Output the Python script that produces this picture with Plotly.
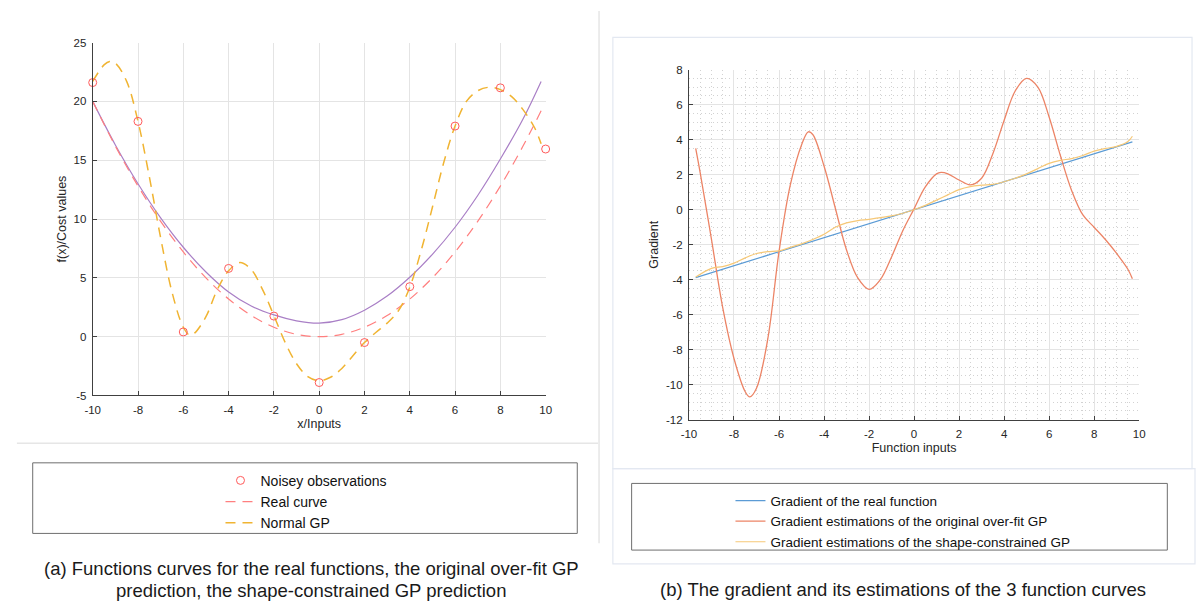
import plotly.graph_objects as go

W, H = 1200, 610
FONT = "Liberation Sans, Arial, Helvetica, sans-serif"

# ---------------- data: left panel ----------------
obs_x = [-10, -8, -6, -4, -2, 0, 2, 4, 6, 8, 10]
obs_y = [21.6, 18.3, 0.4, 5.8, 1.75, -3.9, -0.5, 4.25, 17.9, 21.15, 15.95]

real_x = [-10, -9, -8, -7, -6, -5, -4, -3, -2, -1, 0, 1, 2, 3, 4, 5, 6, 7, 8, 9, 9.8]
real_y = [20.0, 16.2, 12.8, 9.8, 7.2, 5.0, 3.2, 1.8, 0.8, 0.2, 0.0, 0.2, 0.8, 1.8, 3.2, 5.0, 7.2, 9.8, 12.8, 16.2, 19.2]

gp_x = [-10, -9.5, -9.25, -9, -8.5, -8, -7.5, -7, -6.5, -6, -5.7, -5.5, -5, -4.5, -4, -3.5, -3, -2.5, -2,
        -1.5, -1, -0.5, 0, 0.5, 1, 1.5, 2, 2.5, 3, 3.5, 4, 4.5, 5, 5.5, 6, 6.5, 7, 7.5, 8, 8.5, 9, 9.5, 9.8]
gp_y = [21.7, 23.1, 23.4, 23.25, 21.7, 18.3, 13.6, 8.4, 3.8, 0.8, 0.1, 0.3, 1.7, 4.0, 5.6, 6.3, 5.7, 4.0, 1.8,
        -0.5, -2.3, -3.4, -3.75, -3.45, -2.7, -1.6, -0.5, 0.35, 1.15, 2.2, 4.2, 7.3, 11.0, 14.8, 17.9, 20.0, 20.9, 21.2, 21.0, 20.4, 19.3, 17.8, 16.4]

sc_x = [-10, -9, -8, -7, -6, -5, -4, -3, -2, -1, 0, 1, 2, 3, 4, 5, 6, 7, 8, 9, 9.8]
sc_y = [20.0, 16.3, 13.0, 10.1, 7.6, 5.5, 3.8, 2.6, 1.85, 1.35, 1.15, 1.45, 2.25, 3.45, 5.05, 7.0, 9.3, 12.0, 15.1, 18.5, 21.7]

# ---------------- data: right panel ----------------
grad_real_x = [-9.7, -5, 0, 5, 9.7]
grad_real_y = [-3.88, -2.0, 0.0, 2.0, 3.88]

grad_gp_x = [-9.7, -9.5, -9.0, -8.5, -8.0, -7.5, -7.3, -7.0, -6.5, -6.0, -5.5, -5.0, -4.7, -4.5, -4.0, -3.5, -3.0,
             -2.5, -2.0, -1.5, -1.0, -0.5, 0, 0.5, 1.0, 1.2, 1.5, 2.0, 2.5, 3.0, 3.5, 4.0, 4.5, 5.0, 5.5, 6.0,
             6.5, 7.0, 7.5, 8.0, 8.5, 9.0, 9.5, 9.7]
grad_gp_y = [3.5, 2.1, -1.7, -5.6, -8.5, -10.4, -10.7, -10.2, -7.4, -2.4, 1.4, 3.7, 4.45, 4.3, 2.5, 0.1, -2.3,
             -3.9, -4.55, -4.0, -2.7, -1.2, 0.05, 1.3, 2.05, 2.13, 2.05, 1.7, 1.42, 1.8, 3.2, 5.1, 6.8, 7.5, 7.0, 5.3,
             3.1, 1.1, -0.3, -1.0, -1.7, -2.5, -3.4, -3.95]

grad_sc_x = [-9.7, -9.0, -8.5, -8.0, -7.5, -7.0, -6.5, -6.0, -5.5, -5.0, -4.5, -4.0, -3.5, -3.0, -2.5, -2.0,
             -1.5, -1.0, -0.5, 0, 0.5, 1.0, 1.5, 2.0, 2.5, 3.0, 3.5, 4.0, 4.5, 5.0, 5.5, 6.0, 6.5, 7.0, 7.5,
             8.0, 8.5, 9.0, 9.5, 9.7]
grad_sc_y = [-3.85, -3.35, -3.25, -3.05, -2.75, -2.5, -2.4, -2.35, -2.15, -1.95, -1.7, -1.4, -1.0, -0.75, -0.62, -0.55,
             -0.45, -0.35, -0.2, 0.0, 0.25, 0.55, 0.85, 1.15, 1.32, 1.4, 1.45, 1.6, 1.8, 2.05, 2.35, 2.65, 2.82, 2.92, 3.1,
             3.35, 3.5, 3.62, 3.9, 4.2]

left_xticks = [-10, -8, -6, -4, -2, 0, 2, 4, 6, 8, 10]
left_yticks = [-5, 0, 5, 10, 15, 20, 25]
right_xticks = [-10, -8, -6, -4, -2, 0, 2, 4, 6, 8, 10]
right_yticks = [-12, -10, -8, -6, -4, -2, 0, 2, 4, 6, 8]

C_OBS = "#ff5a5a"
C_REAL = "#ff7f7f"
C_GP = "#f0b432"
C_SC = "#a97fc6"
C_BLUE = "#5b9bd5"
C_RED = "#ec8466"
C_YEL = "#f6c877"


def px(x):
    return x / W


def py(y):
    return 1 - y / H


def labels(vals):
    return [str(v) for v in vals]


fig = go.Figure()

# left panel
fig.add_trace(go.Scatter(x=sc_x, y=sc_y, mode="lines", line=dict(color=C_SC, width=1.2, shape="spline"),
                         showlegend=False, xaxis="x", yaxis="y", hoverinfo="skip"))
fig.add_trace(go.Scatter(x=real_x, y=real_y, mode="lines", name="Real curve",
                         line=dict(color=C_REAL, width=1.2, dash="10px,7px", shape="spline"),
                         xaxis="x", yaxis="y", legend="legend", legendrank=2))
fig.add_trace(go.Scatter(x=gp_x, y=gp_y, mode="lines", name="Normal GP",
                         line=dict(color=C_GP, width=1.5, dash="10px,7px", shape="spline"),
                         xaxis="x", yaxis="y", legend="legend", legendrank=3))
fig.add_trace(go.Scatter(x=obs_x, y=obs_y, mode="markers", name="Noisey observations",
                         marker=dict(symbol="circle-open", size=8, color=C_OBS, line=dict(width=1)),
                         xaxis="x", yaxis="y", legend="legend", legendrank=1, cliponaxis=False))

# right panel
fig.add_trace(go.Scatter(x=grad_real_x, y=grad_real_y, mode="lines", name="Gradient of the real function",
                         line=dict(color=C_BLUE, width=1.2), xaxis="x2", yaxis="y2", legend="legend2"))
fig.add_trace(go.Scatter(x=grad_gp_x, y=grad_gp_y, mode="lines",
                         name="Gradient estimations of the original over-fit GP",
                         line=dict(color=C_RED, width=1.3, shape="spline"), xaxis="x2", yaxis="y2", legend="legend2"))
fig.add_trace(go.Scatter(x=grad_sc_x, y=grad_sc_y, mode="lines",
                         name="Gradient estimations of the shape-constrained GP",
                         line=dict(color=C_YEL, width=1.2, shape="spline"), xaxis="x2", yaxis="y2", legend="legend2"))

AX_COLOR = "#404040"
GRID = "#e4e4e4"
TICKFONT = dict(family=FONT, size=11.5, color="#262626")
TITLEFONT = dict(family=FONT, size=12.5, color="#262626")

common = dict(showline=True, linecolor=AX_COLOR, linewidth=1, ticks="inside", ticklen=4, tickcolor=AX_COLOR,
              showgrid=True, gridcolor=GRID, gridwidth=1, zeroline=False, tickfont=TICKFONT, mirror=False)
MINOR = dict(dtick=0.5, showgrid=True, gridcolor="#d2d2d2", griddash="1px,3px", gridwidth=1)

fig.update_layout(
    width=W, height=H, margin=dict(l=0, r=0, t=0, b=0),
    paper_bgcolor="white", plot_bgcolor="white",
    font=dict(family=FONT, color="#000"),
    xaxis=dict(domain=[px(85.7), px(544)], range=[-10, 10], tickvals=left_xticks, ticktext=labels(left_xticks),
               anchor="y", title=dict(text="x/Inputs", font=TITLEFONT, standoff=3), ticklabelstandoff=4, **common),
    yaxis=dict(domain=[py(397.3), py(37.3)], range=[-5, 25], tickvals=left_yticks, ticktext=labels(left_yticks),
               anchor="x", title=dict(text="f(x)/Cost values", font=TITLEFONT, standoff=4), ticklabelstandoff=3,
               **common),
    xaxis2=dict(domain=[px(689), px(1144.5)], range=[-10, 10], tickvals=right_xticks, ticktext=labels(right_xticks),
                anchor="y2", title=dict(text="Function inputs", font=TITLEFONT, standoff=3), ticklabelstandoff=4,
                minor=MINOR, **common),
    yaxis2=dict(domain=[py(422), py(65)], range=[-12, 8], tickvals=right_yticks, ticktext=labels(right_yticks),
                anchor="x2", title=dict(text="Gradient", font=TITLEFONT, standoff=4), ticklabelstandoff=3,
                minor=MINOR, **common),
    legend=dict(x=px(215), y=py(468), xanchor="left", yanchor="top", bgcolor="rgba(0,0,0,0)", borderwidth=0,
                font=dict(family=FONT, size=14, color="#111"), traceorder="normal", itemwidth=30),
    legend2=dict(x=px(731), y=py(489), xanchor="left", yanchor="top", bgcolor="rgba(0,0,0,0)", borderwidth=0,
                 font=dict(family=FONT, size=13.5, color="#111"), traceorder="normal", itemwidth=30),
)

shapes = []
# separator lines / panels
shapes.append(dict(type="line", xref="paper", yref="paper", x0=px(9), x1=px(597), y0=py(446), y1=py(446),
                   line=dict(color="#e6e6e6", width=1.5)))
shapes.append(dict(type="line", xref="paper", yref="paper", x0=px(598), x1=px(598), y0=py(5), y1=py(548),
                   line=dict(color="#e6e6e6", width=1.5)))
shapes.append(dict(type="rect", xref="paper", yref="paper", x0=px(612), x1=px(1198), y0=py(472), y1=py(32),
                   line=dict(color="#e3e8f1", width=1.2)))
shapes.append(dict(type="rect", xref="paper", yref="paper", x0=px(612), x1=px(1201), y0=py(569), y1=py(472),
                   line=dict(color="#e3e8f1", width=1.2)))
# legend boxes
shapes.append(dict(type="rect", xref="paper", yref="paper", x0=px(25), x1=px(576), y0=py(538), y1=py(466),
                   line=dict(color="#6e6e6e", width=1)))
shapes.append(dict(type="rect", xref="paper", yref="paper", x0=px(631), x1=px(1173), y0=py(555), y1=py(487),
                   line=dict(color="#6e6e6e", width=1)))
fig.update_layout(shapes=shapes)

CAP = dict(family=FONT, size=18.5, color="#1a1a1a")
annotations = [
    dict(text="(a) Functions curves for the real functions, the original over-fit GP", x=px(307), y=py(574),
         xref="paper", yref="paper", showarrow=False, xanchor="center", yanchor="middle", font=CAP),
    dict(text="prediction, the shape-constrained GP prediction", x=px(307), y=py(596),
         xref="paper", yref="paper", showarrow=False, xanchor="center", yanchor="middle", font=CAP),
    dict(text="(b) The gradient and its estimations of the 3 function curves", x=px(906), y=py(595),
         xref="paper", yref="paper", showarrow=False, xanchor="center", yanchor="middle", font=CAP),
]
fig.update_layout(annotations=annotations)

fig.write_html("out.html")
